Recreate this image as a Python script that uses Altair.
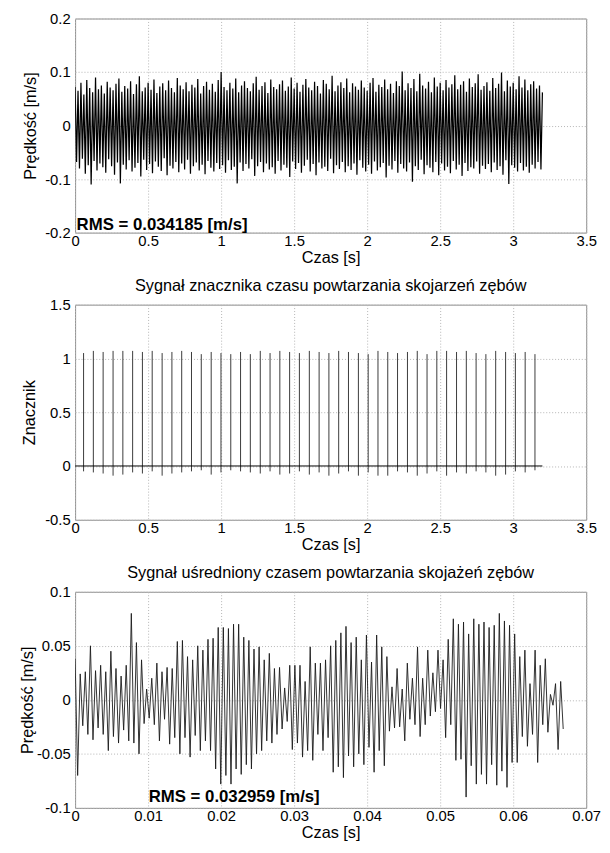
import altair as alt
import pandas as pd

FONT = "Liberation Sans"

# ---------------- panel 1: measured vibration signal (peak readings) ----------------
top_dt = 0.01
top_up = [
    0.072, 0.065, 0.080, 0.058, 0.085, 0.070, 0.062, 0.090, 0.068, 0.075,
    0.060, 0.082, 0.071, 0.066, 0.078, 0.088, 0.063, 0.074, 0.069, 0.083,
    0.059, 0.077, 0.092, 0.064, 0.071, 0.080, 0.067, 0.086, 0.061, 0.073,
    0.079, 0.066, 0.084, 0.070, 0.062, 0.089, 0.075, 0.068, 0.081, 0.064,
    0.076, 0.071, 0.087, 0.060, 0.074, 0.082, 0.067, 0.078, 0.063, 0.085,
    0.100, 0.072, 0.066, 0.080, 0.069, 0.088, 0.062, 0.075, 0.083, 0.070,
    0.064, 0.079, 0.091, 0.067, 0.074, 0.081, 0.061, 0.086, 0.072, 0.068,
    0.077, 0.084, 0.065, 0.073, 0.090, 0.069, 0.080, 0.063, 0.076, 0.087,
    0.071, 0.066, 0.082, 0.074, 0.060, 0.085, 0.078, 0.068, 0.093, 0.064,
    0.075, 0.081, 0.070, 0.088, 0.062, 0.079, 0.073, 0.067, 0.084, 0.071,
    0.065, 0.080, 0.089, 0.063, 0.076, 0.072, 0.086, 0.068, 0.078, 0.061,
    0.083, 0.074, 0.101, 0.066, 0.079, 0.070, 0.087, 0.064, 0.097, 0.075,
    0.069, 0.082, 0.062, 0.090, 0.073, 0.080, 0.066, 0.085, 0.071, 0.077,
    0.094, 0.068, 0.076, 0.083, 0.063, 0.088, 0.072, 0.079, 0.096, 0.067,
    0.074, 0.081, 0.065, 0.089, 0.070, 0.078, 0.099, 0.064, 0.084, 0.073,
    0.080, 0.068, 0.092, 0.071, 0.086, 0.066, 0.077, 0.083, 0.069, 0.075,
    0.062,
]
top_lo = [
    -0.068, -0.080, -0.062, -0.090, -0.074, -0.110, -0.066, -0.084, -0.071, -0.078,
    -0.088, -0.063, -0.076, -0.092, -0.069, -0.108, -0.073, -0.082, -0.065, -0.086,
    -0.079, -0.070, -0.095, -0.064, -0.083, -0.072, -0.089, -0.067, -0.077, -0.085,
    -0.061, -0.093, -0.075, -0.080, -0.068, -0.087, -0.071, -0.082, -0.064, -0.090,
    -0.076, -0.069, -0.084, -0.073, -0.091, -0.066, -0.079, -0.086, -0.070, -0.081,
    -0.074, -0.088, -0.065, -0.083, -0.077, -0.108, -0.069, -0.085, -0.072, -0.080,
    -0.063, -0.094, -0.076, -0.068, -0.087, -0.071, -0.082, -0.078, -0.090, -0.066,
    -0.084, -0.073, -0.079, -0.096, -0.067, -0.081, -0.070, -0.088, -0.075, -0.064,
    -0.086, -0.072, -0.093, -0.069, -0.080, -0.077, -0.085, -0.062, -0.089, -0.074,
    -0.081, -0.068, -0.087, -0.076, -0.083, -0.071, -0.092, -0.065, -0.079, -0.086,
    -0.073, -0.090, -0.067, -0.084, -0.078, -0.070, -0.097, -0.075, -0.082, -0.066,
    -0.088, -0.072, -0.080, -0.086, -0.069, -0.105, -0.076, -0.083, -0.064, -0.091,
    -0.074, -0.079, -0.087, -0.068, -0.093, -0.071, -0.084, -0.077, -0.089, -0.066,
    -0.082, -0.073, -0.094, -0.070, -0.085, -0.078, -0.080, -0.067, -0.090, -0.075,
    -0.081, -0.072, -0.087, -0.069, -0.083, -0.076, -0.092, -0.065, -0.109, -0.074,
    -0.079, -0.086, -0.070, -0.084, -0.077, -0.088, -0.073, -0.080, -0.068, -0.082,
]
top_rms_label = ["RMS = 0.034185 [m/s]"]
top_rms_pos = [0.01, -0.196]

# ---------------- panel 2: tooth-mesh time marker ----------------
mark_title = "Sygnał znacznika czasu powtarzania skojarzeń zębów"
mark_t = [
    0.058, 0.125, 0.192, 0.260, 0.327, 0.394, 0.461, 0.528, 0.596, 0.663,
    0.730, 0.797, 0.864, 0.932, 0.999, 1.066, 1.133, 1.200, 1.268, 1.335,
    1.402, 1.469, 1.536, 1.604, 1.671, 1.738, 1.805, 1.872, 1.940, 2.007,
    2.074, 2.141, 2.208, 2.276, 2.343, 2.410, 2.477, 2.544, 2.612, 2.679,
    2.746, 2.813, 2.880, 2.948, 3.015, 3.082, 3.149,
]
mark_hi = [
    1.05, 1.07, 1.06, 1.07, 1.07, 1.07, 1.06, 1.07, 1.05, 1.06,
    1.07, 1.06, 1.04, 1.06, 1.05, 1.04, 1.06, 1.04, 1.07, 1.05,
    1.07, 1.06, 1.05, 1.07, 1.06, 1.05, 1.07, 1.06, 1.05, 1.04,
    1.07, 1.06, 1.05, 1.06, 1.07, 1.04, 1.07, 1.07, 1.06, 1.07,
    1.05, 1.04, 1.07, 1.06, 1.05, 1.06, 1.04,
]
mark_lo = [
    -0.05, -0.06, -0.07, -0.09, -0.08, -0.06, -0.07, -0.05, -0.09, -0.07,
    -0.06, -0.05, -0.04, -0.08, -0.06, -0.04, -0.05, -0.06, -0.07, -0.05,
    -0.08, -0.07, -0.05, -0.08, -0.06, -0.09, -0.07, -0.05, -0.09, -0.06,
    -0.09, -0.09, -0.05, -0.06, -0.09, -0.07, -0.05, -0.09, -0.06, -0.07,
    -0.05, -0.06, -0.09, -0.08, -0.05, -0.06, -0.04,
]
mark_base_t = [0.0, 3.2]
mark_base_v = [0.0, 0.0]

# ---------------- panel 3: time-synchronous averaged signal ----------------
avg_title = "Sygnał uśredniony czasem powtarzania skojażeń zębów"
avg_dt = 0.00035
avg_up = [
    0.038, 0.024, 0.026, 0.050, 0.027, 0.032, 0.026, 0.045, 0.029, 0.022,
    0.032, 0.080, 0.053, 0.037, 0.010, 0.020, 0.034, 0.026, 0.030, 0.029,
    0.054, 0.055, 0.040, 0.037, 0.050, 0.046, 0.056, 0.057, 0.067, 0.067,
    0.066, 0.070, 0.070, 0.058, 0.055, 0.047, 0.049, 0.037, 0.043, 0.029,
    0.030, 0.011, 0.032, 0.032, 0.032, 0.017, 0.049, 0.034, 0.034, 0.037,
    0.050, 0.055, 0.062, 0.068, 0.053, 0.058, 0.037, 0.060, 0.035, 0.060,
    0.049, 0.040, 0.012, 0.029, 0.010, 0.034, 0.020, 0.049, 0.020, 0.046,
    0.025, 0.046, 0.037, 0.056, 0.075, 0.070, 0.072, 0.061, 0.075, 0.070,
    0.072, 0.067, 0.069, 0.080, 0.073, 0.069, 0.061, 0.040, 0.046, 0.015,
    0.046, 0.032, 0.038, 0.005, 0.015, 0.017,
]
avg_lo = [
    -0.070, -0.024, -0.032, -0.037, -0.026, -0.032, -0.047, -0.034, -0.040, -0.028,
    -0.038, -0.040, -0.050, -0.022, -0.017, -0.023, -0.038, -0.018, -0.041, -0.035,
    -0.050, -0.035, -0.053, -0.033, -0.047, -0.038, -0.047, -0.064, -0.078, -0.070,
    -0.078, -0.064, -0.069, -0.060, -0.064, -0.050, -0.047, -0.038, -0.040, -0.032,
    -0.027, -0.020, -0.046, -0.040, -0.053, -0.047, -0.056, -0.032, -0.047, -0.035,
    -0.067, -0.062, -0.072, -0.052, -0.062, -0.050, -0.060, -0.044, -0.067, -0.047,
    -0.061, -0.029, -0.026, -0.025, -0.038, -0.018, -0.023, -0.034, -0.023, -0.015,
    -0.011, -0.008, -0.035, -0.023, -0.056, -0.055, -0.090, -0.061, -0.078, -0.069,
    -0.078, -0.060, -0.079, -0.066, -0.081, -0.058, -0.058, -0.034, -0.043, -0.032,
    -0.058, -0.023, -0.030, -0.005, -0.046, -0.027,
]
avg_rms_label = ["RMS = 0.032959 [m/s]"]
avg_rms_pos = [0.01008, -0.0948]

# ---------------- axis ticks ----------------
x1_ticks = [0, 0.5, 1, 1.5, 2, 2.5, 3, 3.5]
y1_ticks = [-0.2, -0.1, 0, 0.1, 0.2]
y2_ticks = [-0.5, 0, 0.5, 1, 1.5]
x3_ticks = [0, 0.01, 0.02, 0.03, 0.04, 0.05, 0.06, 0.07]
y3_ticks = [-0.1, -0.05, 0, 0.05, 0.1]


def interleave(up, lo):
    out = []
    for i, u in enumerate(up):
        out.append(u)
        if i < len(lo):
            out.append(lo[i])
    return out


top_v = interleave(top_up, top_lo)
top_df = pd.DataFrame({"t": [i * top_dt for i in range(len(top_v))], "v": top_v})
avg_v = interleave(avg_up, avg_lo)
avg_df = pd.DataFrame({"t": [i * avg_dt for i in range(len(avg_v))], "v": avg_v})
mark_df = pd.DataFrame({"t": mark_t, "v": mark_lo, "hi": mark_hi})
base_df = pd.DataFrame({"t": mark_base_t, "v": mark_base_v})

LABEL = "replace(format(datum.value, '~g'), '\u2212', '-')"
W = 518


def xaxis(vals, title="Czas [s]"):
    return alt.Axis(values=vals, title=title, labelExpr=LABEL, labelFlush=False,
                    labelOverlap=False, labelPadding=1, labelBaseline="top",
                    titleY=25, titleBaseline="middle")


def yaxis(vals, title, tx, h):
    return alt.Axis(values=vals, title=title, labelExpr=LABEL, labelFlush=False,
                    labelOverlap=False, labelPadding=5, titleX=tx, titleY=h / 2,
                    titleAngle=270, titleBaseline="middle")


def rms_text(label, pos, xs, ys, ax, ay):
    df = pd.DataFrame({"t": [pos[0]], "v": [pos[1]], "label": label})
    return alt.Chart(df).mark_text(
        align="left", baseline="alphabetic", font=FONT, fontSize=17,
        fontWeight="bold", color="black"
    ).encode(
        x=alt.X("t:Q", scale=xs, axis=ax),
        y=alt.Y("v:Q", scale=ys, axis=ay),
        text="label:N",
    )


# panel 1
H1 = 217
xs1 = alt.Scale(domain=[0, 3.5], nice=False, zero=False)
ys1 = alt.Scale(domain=[-0.2, 0.2], nice=False, zero=False)
ax1 = xaxis(x1_ticks)
ay1 = yaxis(y1_ticks, "Prędkość [m/s]", -45, H1)
p1_line = alt.Chart(top_df).mark_line(color="black", strokeWidth=1.25, clip=True).encode(
    x=alt.X("t:Q", scale=xs1, axis=ax1),
    y=alt.Y("v:Q", scale=ys1, axis=ay1),
)
p1 = alt.layer(p1_line, rms_text(top_rms_label, top_rms_pos, xs1, ys1, ax1, ay1)).properties(
    width=W, height=H1)

# panel 2
H2 = 218
xs2 = alt.Scale(domain=[0, 3.5], nice=False, zero=False)
ys2 = alt.Scale(domain=[-0.5, 1.5], nice=False, zero=False)
ax2 = xaxis(x1_ticks)
ay2 = yaxis(y2_ticks, "Znacznik", -46, H2)
p2_rules = alt.Chart(mark_df).mark_rule(color="#3a3a3a", strokeWidth=1).encode(
    x=alt.X("t:Q", scale=xs2, axis=ax2),
    y=alt.Y("v:Q", scale=ys2, axis=ay2),
    y2="hi:Q",
)
p2_base = alt.Chart(base_df).mark_line(color="black", strokeWidth=1).encode(
    x=alt.X("t:Q", scale=xs2, axis=ax2),
    y=alt.Y("v:Q", scale=ys2, axis=ay2),
)
p2 = alt.layer(p2_rules, p2_base).properties(
    width=W, height=H2,
    title=alt.TitleParams(text=mark_title, offset=3, frame="group", anchor="middle"),
)

# panel 3
H3 = 219
xs3 = alt.Scale(domain=[0, 0.07], nice=False, zero=False)
ys3 = alt.Scale(domain=[-0.1, 0.1], nice=False, zero=False)
ax3 = xaxis(x3_ticks)
ay3 = yaxis(y3_ticks, "Prędkość [m/s]", -48, H3)
p3_line = alt.Chart(avg_df).mark_line(color="#1a1a1a", strokeWidth=0.9, clip=True).encode(
    x=alt.X("t:Q", scale=xs3, axis=ax3),
    y=alt.Y("v:Q", scale=ys3, axis=ay3),
)
p3 = alt.layer(p3_line, rms_text(avg_rms_label, avg_rms_pos, xs3, ys3, ax3, ay3)).properties(
    width=W, height=H3,
    title=alt.TitleParams(text=avg_title, offset=3, frame="group", anchor="middle"),
)

chart = alt.vconcat(p1, p2, p3, spacing=12).properties(
    padding={"left": 11, "top": -3, "right": 0, "bottom": 0},
    background="white",
).configure_view(
    stroke="#8c8c8c", strokeWidth=1
).configure_axis(
    labelFont=FONT, titleFont=FONT, labelFontSize=15, titleFontSize=16.5,
    labelColor="black", titleColor="black", titleFontWeight="normal",
    grid=True, gridColor="#b4b4b4", gridDash=[1, 2], gridWidth=1,
    domain=False, ticks=False,
).configure_title(
    font=FONT, fontSize=16.5, fontWeight="normal", color="black",
)

chart.save("out.html", embed_options={"renderer": "svg", "actions": False})
